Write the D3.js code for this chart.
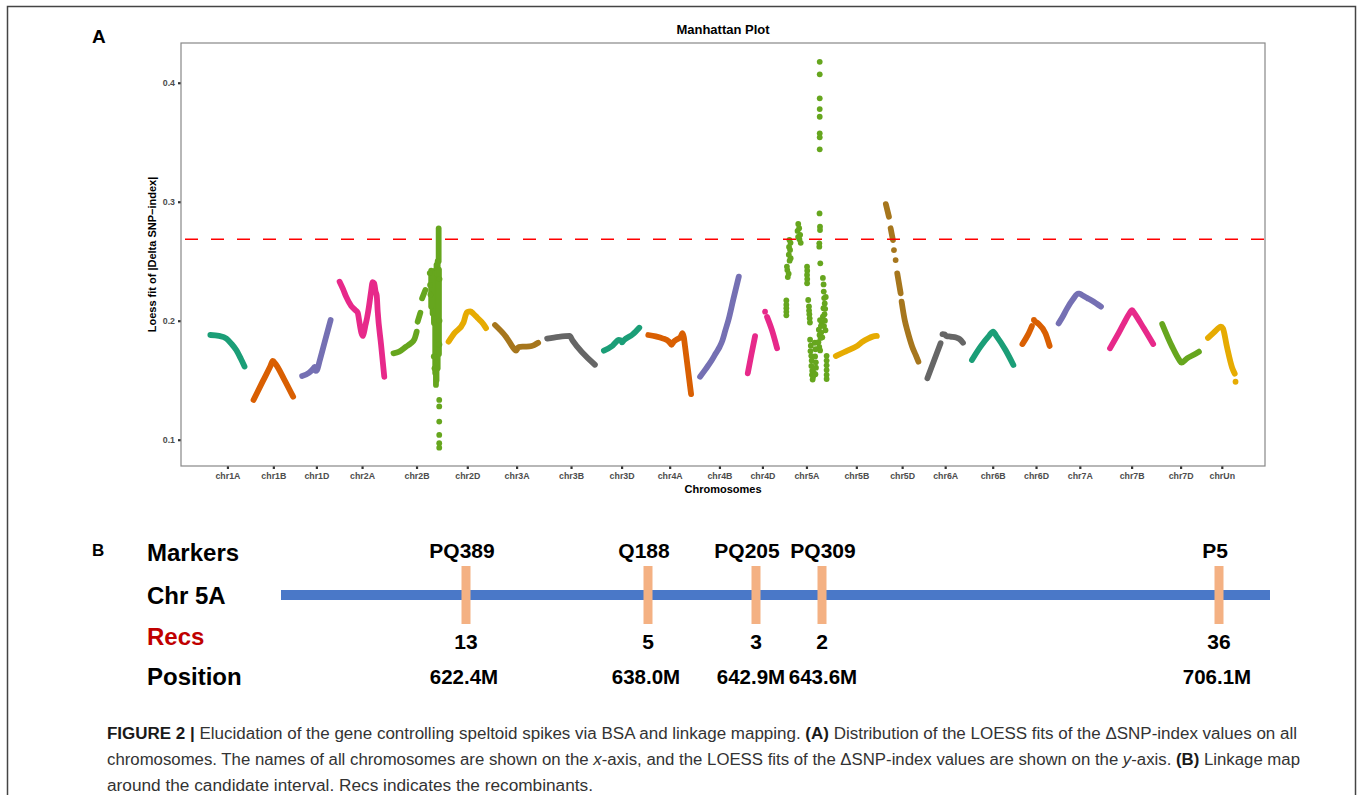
<!DOCTYPE html>
<html>
<head>
<meta charset="utf-8">
<script src="https://cdn.jsdelivr.net/npm/d3@7"></script>
<style>
body { margin: 0; background: #fff; }
text { font-family: "Liberation Sans", Arial, sans-serif; }
</style>
</head>
<body>
<svg id="fig" width="1360" height="795"></svg>
<script>
// ---- panel A data ----
var chroms = ["chr1A","chr1B","chr1D","chr2A","chr2B","chr2D","chr3A","chr3B","chr3D",
  "chr4A","chr4B","chr4D","chr5A","chr5B","chr5D","chr6A","chr6B","chr6D",
  "chr7A","chr7B","chr7D","chrUn"];
// chromosome lengths, Mb
var chromLen = [594,689,495,780,801,651,750,830,615,744,673,509,709,713,566,618,721,473,737,751,639,481];
var chromGap = 156;   // Mb of empty space between chromosomes
var threshold = 0.2684;
var yTicks = [0.1, 0.2, 0.3, 0.4];

// LOESS fit runs: [chromosome, [[pos Mb, value], ...]]
var lineSegs = [
  ["chr1A", [[0,0.188],[150,0.1872],[280,0.185],[360,0.181],[450,0.1754],[530,0.168],[594,0.1615]]],
  ["chr1B", [[0,0.1334],[160,0.149],[290,0.1615],[335,0.1662],[385,0.1635],[530,0.151],[689,0.1361]]],
  ["chr1D", [[0,0.1535],[120,0.1562],[195,0.1598],[215,0.1612],[235,0.1578],[258,0.1585],[300,0.1655],[400,0.1835],[495,0.2006]]],
  ["chr2A", [[0,0.2328],[60,0.2265],[113,0.2202],[200,0.2125],[270,0.209],[315,0.2067],[335,0.2015],[355,0.1955],[380,0.1895],[402,0.1872],[425,0.1905],[450,0.1965],[477,0.2025],[510,0.212],[545,0.224],[575,0.2325],[600,0.2315],[625,0.2245],[645,0.221],[662,0.2076],[720,0.18],[776,0.1529]]],
  ["chr2B", [[0,0.1726],[100,0.174],[219,0.1782],[300,0.181],[363,0.1844],[403,0.1908]]],
  ["chr2B", [[420,0.1992],[467,0.2067]]],
  ["chr2B", [[497,0.2188],[554,0.2258]]],
  ["chr2D", [[0,0.1824],[100,0.1894],[260,0.1985],[290,0.2035],[320,0.2072],[380,0.2078],[430,0.206],[500,0.2025],[600,0.1975],[651,0.1938]]],
  ["chr3A", [[0,0.1964],[190,0.1866],[330,0.1765],[365,0.1748],[410,0.1778],[500,0.1782],[600,0.1784],[680,0.1795],[750,0.1815]]],
  ["chr3B", [[0,0.185],[200,0.1865],[390,0.1872],[440,0.1835],[830,0.163]]],
  ["chr3D", [[0,0.1748],[150,0.179],[260,0.1838],[290,0.1836],[315,0.1818],[345,0.1835],[500,0.1885],[615,0.1941]]],
  ["chr4A", [[0,0.188],[130,0.1868],[247,0.1852],[360,0.1824],[405,0.1798],[440,0.1822],[480,0.1838],[560,0.1862],[595,0.1896],[618,0.186],[640,0.178],[744,0.1384]]],
  ["chr4B", [[0,0.1529],[100,0.1595],[200,0.1665],[274,0.1726],[340,0.178],[389,0.1835],[440,0.192],[493,0.2006],[580,0.2185],[673,0.237]]],
  ["chr4D", [[0,0.1558],[60,0.171],[127,0.1871]]],
  ["chr4D", [[335,0.2032],[420,0.192],[509,0.1768]]],
  ["chr5B", [[0,0.1703],[140,0.1735],[287,0.1768],[380,0.179],[460,0.1822],[560,0.185],[640,0.1866],[713,0.1872]]],
  ["chr5D", [[0,0.298],[54,0.2874]]],
  ["chr5D", [[83,0.2777],[123,0.2678]]],
  ["chr5D", [[198,0.2398],[257,0.223]]],
  ["chr5D", [[274,0.216],[330,0.2],[371,0.1922],[458,0.1782],[520,0.171],[566,0.1656]]],
  ["chr6A", [[0,0.1516],[229,0.181]]],
  ["chr6A", [[262,0.1888],[300,0.1884],[330,0.1872],[400,0.1866],[500,0.1858],[560,0.1845],[618,0.1815]]],
  ["chr6B", [[0,0.167],[149,0.1782],[300,0.1875],[368,0.1908],[420,0.1875],[583,0.1754],[720,0.1628]]],
  ["chr6D", [[0,0.1804],[100,0.1885],[165,0.1955]]],
  ["chr6D", [[228,0.199],[285,0.1972],[400,0.1894],[473,0.1788]]],
  ["chr7A", [[0,0.1978],[60,0.2025],[148,0.2104],[250,0.218],[340,0.2228],[365,0.2228],[408,0.2215],[500,0.219],[582,0.2168],[736,0.2118]]],
  ["chr7B", [[0,0.1768],[120,0.187],[240,0.1978],[330,0.2055],[384,0.2088],[420,0.2065],[587,0.1936],[750,0.1804]]],
  ["chr7D", [[0,0.1972],[172,0.1782],[300,0.1668],[335,0.1647],[432,0.1684],[540,0.1712],[638,0.174]]],
  ["chrUn", [[0,0.1855],[100,0.19],[200,0.1945],[225,0.195],[260,0.1935],[330,0.178],[420,0.1605],[465,0.1555]]]
];

// solid runs of overlapping points: [chromosome, pos Mb, top value, bottom value]
var denseCols = [
  ["chr2B",785,0.2775,0.25], ["chr2B",768,0.25,0.16], ["chr2B",748,0.247,0.15],
  ["chr2B",725,0.242,0.156], ["chr2B",703,0.24,0.198], ["chr2B",680,0.236,0.206],
  ["chr2B",655,0.242,0.212], ["chr2B",738,0.165,0.146], ["chr2B",790,0.243,0.172]
];

// single points: [chromosome, pos Mb, value]
var scatterPts = [
  ["chr2B",795,0.1334],["chr2B",795,0.128],["chr2B",795,0.1152],["chr2B",795,0.104],["chr2B",795,0.097],["chr2B",795,0.0933],
  ["chr2B",630,0.24],["chr2B",636,0.23],["chr2B",642,0.222],["chr2B",800,0.235],["chr2B",800,0.2],["chr2B",798,0.18],
  ["chr2B",700,0.17],["chr2B",712,0.16],["chr4D",300,0.2076],["chr5D",141,0.2594],["chr5D",170,0.251],
  ["chr6D",200,0.2006],["chrUn",479,0.1487],
  ["chr5A",5,0.217],["chr5A",5,0.2135],["chr5A",5,0.2105],["chr5A",5,0.2075],["chr5A",5,0.2045],
  ["chr5A",22,0.2426],["chr5A",45,0.2395],["chr5A",30,0.2367],["chr5A",15,0.2455],
  ["chr5A",58,0.268],["chr5A",78,0.2655],["chr5A",52,0.262],["chr5A",70,0.2595],["chr5A",48,0.2555],["chr5A",80,0.2525],["chr5A",62,0.2505],
  ["chr5A",212,0.2813],["chr5A",200,0.2755],["chr5A",245,0.2722],["chr5A",228,0.2778],["chr5A",232,0.2685],["chr5A",255,0.2655],["chr5A",210,0.2705],
  ["chr5A",365,0.2454],["chr5A",368,0.242],["chr5A",365,0.2385],["chr5A",368,0.235],["chr5A",366,0.2315],
  ["chr5A",385,0.2174],["chr5A",398,0.212],["chr5A",400,0.2085],["chr5A",405,0.2055],["chr5A",410,0.202],["chr5A",415,0.1985],
  ["chr5A",418,0.184],["chr5A",430,0.179],["chr5A",424,0.1745],["chr5A",438,0.1705],["chr5A",445,0.1665],["chr5A",440,0.162],
  ["chr5A",455,0.158],["chr5A",450,0.1545],["chr5A",462,0.1505],["chr5A",470,0.153],["chr5A",478,0.1565],
  ["chr5A",500,0.1815],["chr5A",512,0.176],["chr5A",505,0.17],["chr5A",518,0.165],["chr5A",520,0.1605],["chr5A",510,0.155],
  ["chr5A",585,0.4176],["chr5A",585,0.4071],["chr5A",585,0.3869],["chr5A",585,0.3779],["chr5A",585,0.3714],["chr5A",585,0.3575],
  ["chr5A",585,0.3541],["chr5A",585,0.344],["chr5A",582,0.2902],["chr5A",590,0.279],["chr5A",590,0.2762],["chr5A",578,0.265],
  ["chr5A",578,0.2622],["chr5A",595,0.2482],
  ["chr5A",640,0.236],["chr5A",652,0.2305],["chr5A",655,0.2245],["chr5A",662,0.219],["chr5A",672,0.2145],["chr5A",650,0.2105],
  ["chr5A",668,0.2055],["chr5A",640,0.2035],["chr5A",675,0.2],["chr5A",620,0.198],["chr5A",605,0.1955],["chr5A",590,0.2005],
  ["chr5A",660,0.1955],["chr5A",685,0.192],["chr5A",570,0.1925],["chr5A",582,0.188],["chr5A",600,0.1855],["chr5A",562,0.182],
  ["chr5A",577,0.178],["chr5A",592,0.175],["chr5A",610,0.19],["chr5A",630,0.186],["chr5A",680,0.21],["chr5A",690,0.22],
  ["chr5A",705,0.1705],["chr5A",705,0.1665],["chr5A",705,0.1625],["chr5A",705,0.1585],["chr5A",705,0.1545],["chr5A",705,0.151]
];

// ---- panel B data ----
var markers = ["PQ389","Q188","PQ205","PQ309","P5"];
var markerRecs = [13, 5, 3, 2, 36];
var markerPos = [622.4, 638.0, 642.9, 643.6, 706.1];   // Mb on chr 5A

var svg = d3.select("#fig");
var black = "#000";

// outer frame
svg.append("rect")
  .attr("x", 7.5).attr("y", 6.5).attr("width", 1348).attr("height", 800)
  .attr("fill", "none").attr("stroke", "#444").attr("stroke-width", 1.5);

svg.append("text").attr("x", 92).attr("y", 43)
  .attr("font-size", 19).attr("font-weight", "bold").text("A");

// ---- Manhattan plot ----
var margin = {top: 43, left: 181},
    width = 1084, height = 423;

var offset = {}, acc = 0;
chroms.forEach(function(c, i) { offset[c] = acc; acc += chromLen[i] + chromGap; });
var total = acc - chromGap;
var centers = chroms.map(function(c, i) { return offset[c] + chromLen[i] / 2; });

var x = d3.scaleLinear().domain([-510, total + 510]).range([0, width]);
var y = d3.scaleLinear().domain([0.0779, 0.4334]).range([height, 0]);
var color = d3.scaleOrdinal(chroms, chroms.map(function(c, i) { return d3.schemeDark2[i % 8]; }));

var g = svg.append("g").attr("transform", "translate(" + margin.left + "," + margin.top + ")");

var xAxis = g.append("g").attr("transform", "translate(0," + height + ")")
  .call(d3.axisBottom(x).tickValues(centers).tickFormat(function(d, i) { return chroms[i]; })
    .tickSize(3).tickPadding(4));
var yAxis = g.append("g")
  .call(d3.axisLeft(y).tickValues(yTicks).tickFormat(d3.format(".1f")).tickSize(3).tickPadding(3));
[xAxis, yAxis].forEach(function(a) {
  a.select(".domain").remove();
  a.selectAll(".tick line").attr("stroke", "#333").attr("stroke-width", 2.2);
  a.selectAll(".tick text").attr("fill", "#4D4D4D").attr("font-weight", "bold")
    .attr("font-size", 8.8).style("font-family", "'Liberation Sans', Arial, sans-serif");
});

var line = d3.line()
  .x(function(d) { return x(d[0]); })
  .y(function(d) { return y(d[1]); })
  .curve(d3.curveMonotoneX);

var ptR = 2.9;

g.append("g").selectAll("path")
  .data(lineSegs)
  .join("path")
  .attr("d", function(s) { return line(s[1].map(function(p) { return [offset[s[0]] + p[0], p[1]]; })); })
  .attr("fill", "none")
  .attr("stroke", function(s) { return color(s[0]); })
  .attr("stroke-width", ptR * 2)
  .attr("stroke-linecap", "round")
  .attr("stroke-linejoin", "round");

g.append("g").selectAll("line")
  .data(denseCols)
  .join("line")
  .attr("x1", function(d) { return x(offset[d[0]] + d[1]); })
  .attr("x2", function(d) { return x(offset[d[0]] + d[1]); })
  .attr("y1", function(d) { return y(d[2]); })
  .attr("y2", function(d) { return y(d[3]); })
  .attr("stroke", function(d) { return color(d[0]); })
  .attr("stroke-width", ptR * 2)
  .attr("stroke-linecap", "round");

g.append("g").selectAll("circle")
  .data(scatterPts)
  .join("circle")
  .attr("cx", function(d) { return x(offset[d[0]] + d[1]); })
  .attr("cy", function(d) { return y(d[2]); })
  .attr("r", ptR)
  .attr("fill", function(d) { return color(d[0]); });

// threshold
g.append("line")
  .attr("x1", 0).attr("x2", width)
  .attr("y1", y(threshold)).attr("y2", y(threshold))
  .attr("stroke", "#FF0000").attr("stroke-width", 1.5)
  .attr("stroke-dasharray", "13 13").attr("stroke-dashoffset", 22);

// panel border
g.append("rect").attr("width", width).attr("height", height)
  .attr("fill", "none").attr("stroke", "#888").attr("stroke-width", 1.2);

g.append("text").attr("x", width / 2).attr("y", -9)
  .attr("text-anchor", "middle").attr("font-size", 13).attr("font-weight", "bold")
  .text("Manhattan Plot");
g.append("text").attr("x", width / 2).attr("y", height + 27)
  .attr("text-anchor", "middle").attr("font-size", 11).attr("font-weight", "bold")
  .text("Chromosomes");
g.append("text")
  .attr("transform", "translate(-25.5," + (height / 2) + ") rotate(-90)")
  .attr("text-anchor", "middle").attr("font-size", 11).attr("font-weight", "bold")
  .text("Loess fit of |Delta SNP\u2212index|");

// ---- linkage map ----
var bx = d3.scaleLinear()
  .domain([610].concat(markerPos, [712]))
  .range([281, 466, 648, 756, 822, 1219, 1270]);

// spread labels that would run into each other
function spread(xs, minSep) {
  var out = xs.slice();
  for (var i = 1; i < out.length; i++) {
    var d = out[i] - out[i - 1];
    if (d < minSep) { out[i - 1] -= (minSep - d) / 2; out[i] += (minSep - d) / 2; }
  }
  return out;
}
var tickX = markerPos.map(bx);
var nameX = spread(tickX.map(function(v) { return v - 4; }), 76);
var posX = spread(tickX.map(function(v) { return v - 2; }), 72);

var b = svg.append("g");
b.append("text").attr("x", 92).attr("y", 556).attr("font-size", 17).attr("font-weight", "bold").text("B");

var rowLabels = [["Markers", 561, black], ["Chr 5A", 604, black], ["Recs", 645, "#C00000"], ["Position", 685, black]];
b.selectAll("text.row").data(rowLabels).join("text").attr("class", "row")
  .attr("x", 147).attr("y", function(d) { return d[1]; })
  .attr("font-size", 24).attr("font-weight", "bold")
  .attr("fill", function(d) { return d[2]; })
  .text(function(d) { return d[0]; });

b.append("rect")
  .attr("x", bx(610)).attr("y", 590)
  .attr("width", bx(712) - bx(610)).attr("height", 10)
  .attr("fill", "#4A78C8");

b.selectAll("rect.mk").data(markerPos).join("rect").attr("class", "mk")
  .attr("x", function(d) { return bx(d) - 4.5; }).attr("y", 566)
  .attr("width", 9).attr("height", 58)
  .attr("fill", "#F4B183");

b.selectAll("text.mname").data(markers).join("text").attr("class", "mname")
  .attr("x", function(d, i) { return nameX[i]; }).attr("y", 558)
  .attr("text-anchor", "middle").attr("font-size", 21).attr("font-weight", "bold")
  .text(function(d) { return d; });

b.selectAll("text.rec").data(markerRecs).join("text").attr("class", "rec")
  .attr("x", function(d, i) { return tickX[i]; }).attr("y", 649)
  .attr("text-anchor", "middle").attr("font-size", 21).attr("font-weight", "bold")
  .text(function(d) { return d; });

b.selectAll("text.pos").data(markerPos).join("text").attr("class", "pos")
  .attr("x", function(d, i) { return posX[i]; }).attr("y", 684)
  .attr("text-anchor", "middle").attr("font-size", 20.5).attr("font-weight", "bold")
  .text(function(d) { return d.toFixed(1) + "M"; });

// ---- caption ----
var captionLines = [
  [["FIGURE 2 | ", "b"], ["Elucidation of the gene controlling speltoid spikes via BSA and linkage mapping. ", ""], ["(A)", "b"], [" Distribution of the LOESS fits of the \u0394SNP-index values on all", ""]],
  [["chromosomes. The names of all chromosomes are shown on the ", ""], ["x", "i"], ["-axis, and the LOESS fits of the \u0394SNP-index values are shown on the ", ""], ["y", "i"], ["-axis. ", ""], ["(B)", "b"], [" Linkage map", ""]],
  [["around the candidate interval. Recs indicates the recombinants.", ""]]
];
var captionWidth = [1190, 1193, 486];
captionLines.forEach(function(parts, li) {
  var t = svg.append("text").attr("x", 107).attr("y", 739 + li * 26)
    .attr("font-size", 16).attr("fill", "#333")
    .attr("textLength", captionWidth[li]).attr("lengthAdjust", "spacingAndGlyphs");
  parts.forEach(function(p) {
    t.append("tspan").text(p[0])
      .attr("font-weight", p[1] === "b" ? "bold" : null)
      .attr("fill", p[1] === "b" ? "#1a1a1a" : null)
      .attr("font-style", p[1] === "i" ? "italic" : null);
  });
});
</script>
</body>
</html>
